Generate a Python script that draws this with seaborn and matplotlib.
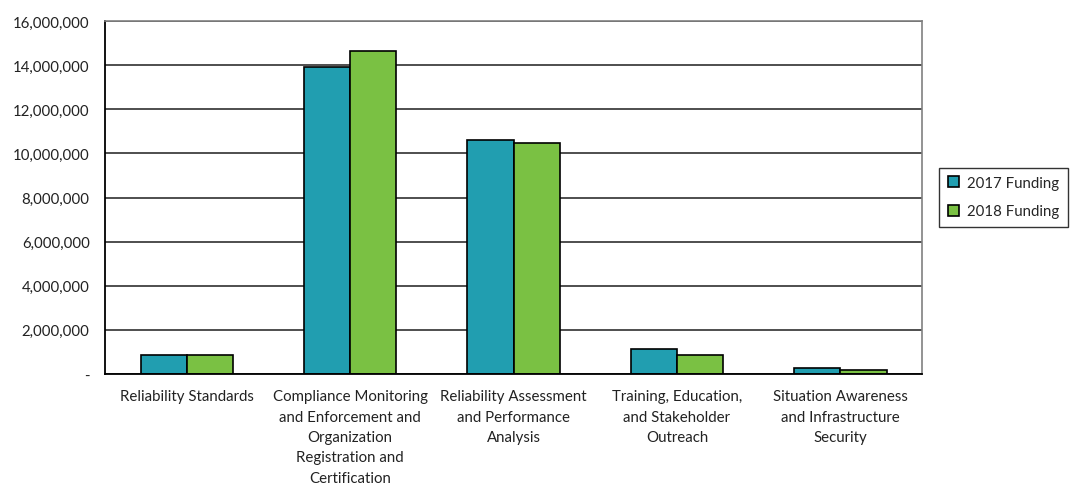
import pandas as pd
import numpy as np
import matplotlib
matplotlib.use("Agg")
import matplotlib.pyplot as plt
import seaborn as sns
from matplotlib.patches import Patch
from matplotlib.ticker import FuncFormatter, FixedLocator

# data
categories = [
    "Reliability Standards",
    "Compliance Monitoring\nand Enforcement and\nOrganization\nRegistration and\nCertification",
    "Reliability Assessment\nand Performance\nAnalysis",
    "Training, Education,\nand Stakeholder\nOutreach",
    "Situation Awareness\nand Infrastructure\nSecurity",
]
funding_2017 = [860000, 13920000, 10620000, 1130000, 260000]
funding_2018 = [860000, 14650000, 10460000, 870000, 180000]
series = ["2017 Funding", "2018 Funding"]
colors = ["#219EB0", "#7AC143"]

df = pd.DataFrame({
    "category": categories * 2,
    "funding": funding_2017 + funding_2018,
    "series": [series[0]] * 5 + [series[1]] * 5,
})

sns.set_style("white")
plt.rcParams["font.family"] = ["Lato", "DejaVu Sans"]

fig = plt.figure(figsize=(10.81, 4.85), dpi=100)
ax = fig.add_axes([0.0971, 0.2268, 0.7559, 0.7278])

sns.barplot(data=df, x="category", y="funding", hue="series",
            palette=colors, width=0.565, edgecolor="black", linewidth=1.2,
            saturation=1, ax=ax, legend=False)

ax.set_ylim(0, 16000000)
ax.set_xlim(-0.5, 4.5)
ax.set_yticks(np.arange(0, 16000001, 2000000))
ax.yaxis.set_major_formatter(FuncFormatter(lambda v, p: "-" if v == 0 else f"{int(v):,}"))
ax.grid(axis="y", color="#404040", linewidth=1.3)
ax.set_axisbelow(True)
ax.set_xlabel("")
ax.set_ylabel("")

# category boundary ticks
ax.xaxis.set_minor_locator(FixedLocator(np.arange(-0.5, 5, 1)))
ax.tick_params(axis="x", which="major", length=0, pad=11, labelsize=10.8, labelcolor="#222222")
ax.tick_params(axis="x", which="minor", length=5, width=1, color="black", direction="out")
ax.tick_params(axis="y", length=4, width=1, color="black", direction="out", labelsize=10.8,
               labelcolor="#222222", pad=7)
for lbl in ax.get_xticklabels():
    lbl.set_linespacing(1.58)

for side in ["left", "bottom"]:
    ax.spines[side].set_color("black")
    ax.spines[side].set_linewidth(1.3)
for side in ["top", "right"]:
    ax.spines[side].set_visible(True)
    ax.spines[side].set_color("#808080")
    ax.spines[side].set_linewidth(1.2)

handles = [Patch(facecolor=c, edgecolor="black", linewidth=1.2) for c in colors]
leg = fig.legend(handles, series, loc="upper left", bbox_to_anchor=(0.869, 0.652),
                 frameon=True, fancybox=False, edgecolor="black", fontsize=10.8,
                 handlelength=0.75, handleheight=0.75, handletextpad=0.55,
                 labelspacing=0.95, borderpad=0.55, borderaxespad=0)
leg.get_frame().set_linewidth(1.0)

fig.savefig("out.png", dpi=100)
